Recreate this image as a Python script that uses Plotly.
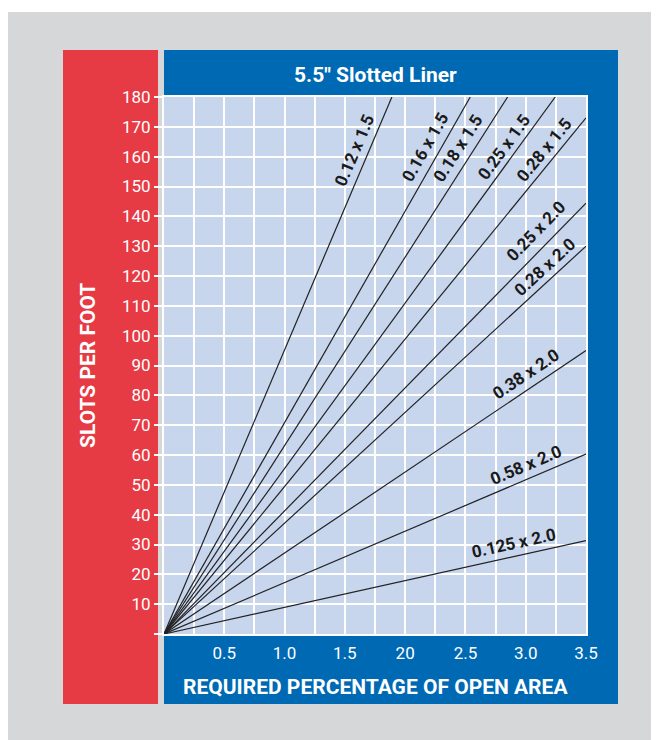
import math
import plotly.graph_objects as go

# Slot sizes (width x length, inches) and where each line leaves the chart
slot_labels = ["0.12 x 1.5", "0.16 x 1.5", "0.18 x 1.5", "0.25 x 1.5", "0.28 x 1.5",
               "0.25 x 2.0", "0.28 x 2.0", "0.38 x 2.0", "0.58 x 2.0", "0.125 x 2.0"]
end_open_area = [1.89, 2.54, 2.85, 3.245, 3.5, 3.5, 3.5, 3.5, 3.5, 3.5]
end_slots = [180, 180, 180, 180, 173, 144.4, 130, 95, 60.3, 31.3]

# Tick labels as printed on the chart
x_tickvals = [0.5, 1.0, 1.5, 2.0, 2.5, 3.0, 3.5]
x_ticktext = ["0.5", "1.0", "1.5", "20", "2.5", "3.0", "3.5"]
y_tickvals = list(range(0, 181, 10))
y_ticktext = [""] + [str(v) for v in y_tickvals[1:]]

# label centres (data coords)
label_x = [1.579, 2.165, 2.438, 2.818, 3.149, 3.083, 3.157, 3.0, 3.0, 2.901]
label_y = [162.3, 163.3, 162.9, 163.3, 162.3, 135.1, 123.0, 87.2, 56.7, 30.5]

# page has an 8px body margin, so figure coords = screen coords - 8
W, H = 651, 732
L, R, T, B = 156, 578, 89, 626  # plot area in figure pixels
X_MAX, Y_MAX = 3.5, 180

FONT = "Roboto, Liberation Sans, Arial, sans-serif"
GRAY = "#d6d7d9"
RED = "#e63a44"
BLUE = "#0069b4"
PALE = "#c7d5ed"


def px(x):
    return (x - L) / (R - L)


def py(y):
    return (B - y) / (B - T)


fig = go.Figure()

for lab, xe, ye in zip(slot_labels, end_open_area, end_slots):
    fig.add_trace(go.Scatter(x=[0, xe], y=[0, ye], mode="lines", name=lab,
                             line=dict(color="#222222", width=1.2), hoverinfo="name"))

# rotate labels to follow their lines
sx = (R - L) / X_MAX
sy = (B - T) / Y_MAX
for lab, xe, ye, lx, ly in zip(slot_labels, end_open_area, end_slots, label_x, label_y):
    ang = math.degrees(math.atan((ye / xe) * sy / sx))
    fig.add_annotation(x=lx, y=ly, text="<b>" + lab + "</b>", showarrow=False,
                       textangle=-ang, xanchor="center", yanchor="middle",
                       font=dict(family=FONT, size=17, color="#1a1a1a"))

# background panels
fig.add_shape(type="rect", xref="paper", yref="paper", x0=px(-1), x1=px(700), y0=py(4), y1=py(760),
              fillcolor=GRAY, line_width=0, layer="below")
fig.add_shape(type="rect", xref="paper", yref="paper", x0=px(55), x1=px(150), y0=py(42), y1=py(696),
              fillcolor=RED, line_width=0, layer="below")
fig.add_shape(type="rect", xref="paper", yref="paper", x0=px(156), x1=px(610), y0=py(42), y1=py(696),
              fillcolor=BLUE, line_width=0, layer="below")
fig.add_shape(type="rect", xref="paper", yref="paper", x0=0, x1=1, y0=0, y1=1,
              fillcolor=PALE, line_width=0, layer="below")

title_font = dict(family=FONT, size=21, color="white")
fig.add_annotation(xref="paper", yref="paper", x=px(367), y=py(67), text="<b>5.5\" Slotted Liner</b>",
                   xanchor="center", yanchor="middle", showarrow=False, font=title_font)
fig.add_annotation(xref="paper", yref="paper", x=px(367), y=py(679),
                   text="<b>REQUIRED PERCENTAGE OF OPEN AREA</b>",
                   xanchor="center", yanchor="middle", showarrow=False, font=title_font)
fig.add_annotation(xref="paper", yref="paper", x=px(80), y=py(358), text="<b>SLOTS PER FOOT</b>",
                   textangle=-90, xanchor="center", yanchor="middle", showarrow=False, font=title_font)

fig.update_xaxes(range=[0, X_MAX], tickvals=x_tickvals, ticktext=x_ticktext, ticks="",
                 showgrid=True, gridcolor="white", gridwidth=1.5,
                 minor=dict(dtick=0.25, showgrid=True, gridcolor="white", gridwidth=1.5),
                 zeroline=False, showline=True, linecolor="white", linewidth=2, mirror=True,
                 ticklabelstandoff=3, tickfont=dict(family=FONT, size=17, color="white"))
fig.update_yaxes(range=[0, Y_MAX], tickvals=y_tickvals, ticktext=y_ticktext, ticks="outside",
                 ticklen=8, tickcolor="white", tickwidth=1.5,
                 showgrid=True, gridcolor="white", gridwidth=1.5,
                 zeroline=False, showline=True, linecolor="white", linewidth=2, mirror=True,
                 tickfont=dict(family=FONT, size=17, color="white"))

fig.update_layout(width=W, height=H, margin=dict(l=L, r=W - R, t=T, b=H - B),
                  paper_bgcolor="white", plot_bgcolor=PALE, showlegend=False)

fig.write_html("out.html")
